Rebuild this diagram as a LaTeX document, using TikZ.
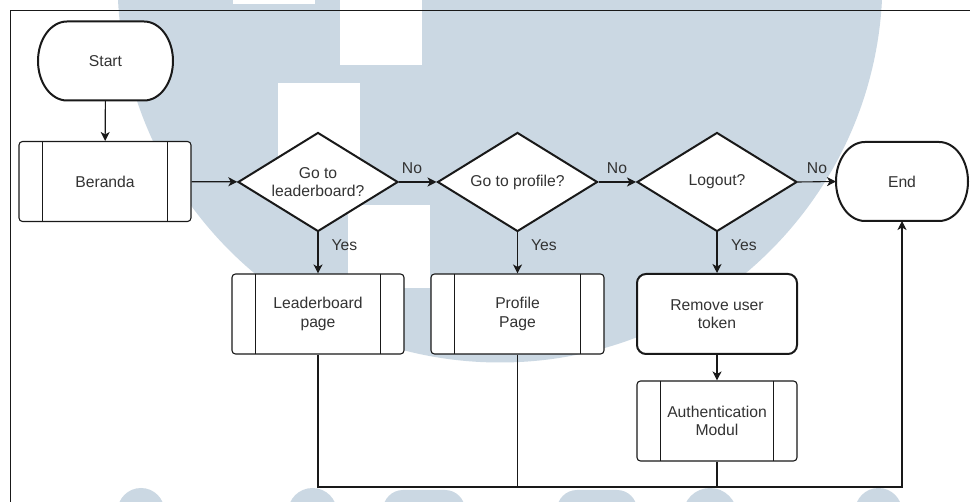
\documentclass[tikz,border=0pt]{standalone}
\usepackage{fontspec}
\setmainfont{Liberation Sans}
\usetikzlibrary{arrows.meta,shapes.geometric}

\pgfdeclarelayer{watermark}
\pgfdeclarelayer{outline}
\pgfsetlayers{watermark,outline,main}

\definecolor{wmblue}{RGB}{203,216,227}
\definecolor{ink}{RGB}{25,25,25}
\definecolor{txt}{RGB}{51,51,51}

% stadium outline drawn around an (invisible) terminal node
\newcommand\termoutline[1]{%
  \draw[draw=ink, line width=2pt, fill=white]
    ([xshift=29pt]#1.north west) -- ([xshift=-29pt]#1.north east)
    arc[start angle=90, end angle=-90, x radius=29pt, y radius=39.5pt]
    -- ([xshift=29pt]#1.south west)
    arc[start angle=270, end angle=90, x radius=29pt, y radius=39.5pt]
    -- cycle;}

\tikzset{
  every node/.style={font=\fontsize{15.7pt}{18.3pt}\selectfont, text=txt},
  terminal/.style={minimum height=79pt, inner sep=0pt, outer sep=0pt},
  subproc/.style={draw=ink, line width=1.1pt, fill=white, rounded corners=3.5pt,
    minimum width=172pt, minimum height=80pt, inner sep=0pt, align=center,
    path picture={
      \draw[draw=ink, line width=1.1pt]
        ([xshift=23.5pt]path picture bounding box.north west) --
        ([xshift=23.5pt]path picture bounding box.south west)
        ([xshift=-23.5pt]path picture bounding box.north east) --
        ([xshift=-23.5pt]path picture bounding box.south east);}},
  decision/.style={diamond, draw=ink, line width=2pt, fill=white, aspect=1.6,
    minimum width=160pt, minimum height=99pt, inner sep=0pt, align=center},
  process/.style={draw=ink, line width=2pt, fill=white, rounded corners=9pt,
    minimum width=160pt, minimum height=80pt, inner sep=0pt, align=center},
  conn/.style={draw=ink, line width=1.1pt},
  arr/.style={conn, -{Stealth[length=9pt, width=9pt, inset=2.5pt]}},
  lbl/.style={inner sep=0pt}
}

\begin{document}
\begin{tikzpicture}[x=1pt, y=-1pt]
\useasboundingbox (0,0) rectangle (970,502);

% watermark logo in the background
\begin{pgfonlayer}{watermark}
  \begin{scope}
    \clip (0,0) rectangle (970,502);
    \fill[white] (0,0) rectangle (970,502);
    \fill[wmblue] (500,-20) circle[radius=382.5pt];
    \fill[white] (233,-80) rectangle (315,4);
    \fill[white] (340,-20) rectangle (422,65);
    \fill[white] (278,83) rectangle (360,166);
    \fill[white] (348,205) rectangle (430,288);
    \fill[wmblue] (141,511.5) circle[radius=23.5pt];
    \fill[wmblue] (312.5,512.5) circle[radius=24.5pt];
    \fill[wmblue, rounded corners=20pt] (383,490) rectangle (465,560);
    \fill[wmblue, rounded corners=20pt] (557,490) rectangle (637,560);
    \fill[wmblue] (710,515) circle[radius=27pt];
    \fill[wmblue] (878.5,511.5) circle[radius=23.5pt];
  \end{scope}
\end{pgfonlayer}

% frame
\draw[draw=ink, line width=1pt] (970,11) -- (10,11) -- (10,502);

% terminals
\node[terminal, minimum width=135pt] (start) at (105.5,61) {Start};
\node[terminal, minimum width=132pt] (end) at (902,181.5) {End};
\begin{pgfonlayer}{outline}
  \termoutline{start}
  \termoutline{end}
\end{pgfonlayer}

% main row
\node[subproc] (beranda) at (105,181.5) {Beranda};
\node[decision] (d1) at (318,182) {Go to\\leaderboard?};
\node[decision] (d2) at (517.5,182) {Go to profile?};
\node[decision] (d3) at (717,182) {Logout?};

% second row
\node[subproc] (lb) at (318,314) {Leaderboard\\page};
\node[subproc, minimum width=173pt] (pp) at (517.5,314) {Profile\\Page};
\node[process] (rut) at (717,314) {Remove user\\token};
\node[subproc, minimum width=160pt] (auth) at (717,421) {Authentication\\Modul};

% connectors
\draw[arr] (start) -- (beranda);
\draw[arr] (beranda) -- (d1);
\draw[arr] (d1) -- (d2);
\draw[arr] (d2) -- (d3);
\draw[arr] (d3.east) -- (end.west);
\draw[arr] (d1.south) -- (lb.north);
\draw[arr] (d2.south) -- (pp.north);
\draw[arr] (d3.south) -- (rut.north);
\draw[arr] (rut.south) -- (auth.north);

\coordinate (bus) at (0,487);
\draw[arr] (lb.south) |- (end.south |- bus) -- (end.south);
\draw[conn] (pp.south) -- (pp.south |- bus);
\draw[conn] (auth.south) -- (auth.south |- bus);

% branch labels
\node[lbl] (no1) at (412,168) {No};
\node[lbl] (no2) at (617,168) {No};
\node[lbl] (no3) at (817,168) {No};
\node[lbl] (yes1) at (344.5,245) {Yes};
\node[lbl] (yes2) at (544,245) {Yes};
\node[lbl] (yes3) at (744,245) {Yes};
\end{tikzpicture}
\end{document}
